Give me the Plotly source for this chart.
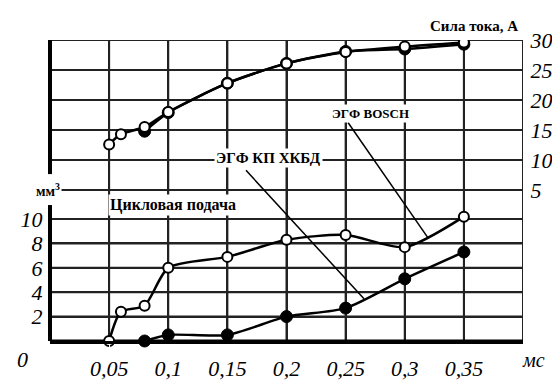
import plotly.graph_objects as go

# ---- data ----
x_ticks = [0.05, 0.1, 0.15, 0.2, 0.25, 0.3, 0.35]
x_tick_labels = ["0,05", "0,1", "0,15", "0,2", "0,25", "0,3", "0,35"]
feed_ticks = [2, 4, 6, 8, 10]
current_ticks = [5, 10, 15, 20, 25, 30]

# Current (A), upper curves
cur_bosch_x = [0.05, 0.06, 0.08, 0.1, 0.15, 0.2, 0.25, 0.3, 0.35]
cur_bosch_y = [12.6, 14.3, 15.5, 18.0, 22.8, 26.1, 28.0, 28.9, 29.6]
cur_kp_x = [0.08, 0.1, 0.15, 0.2, 0.25, 0.3, 0.35]
cur_kp_y = [14.8, 17.9, 22.8, 26.1, 28.1, 28.5, 29.3]

# Cycle feed (mm3), lower curves
feed_bosch_x = [0.05, 0.06, 0.08, 0.1, 0.15, 0.2, 0.25, 0.3, 0.35]
feed_bosch_y = [0.0, 2.4, 2.9, 6.0, 6.9, 8.3, 8.7, 7.7, 10.2]
feed_kp_x = [0.08, 0.1, 0.15, 0.2, 0.25, 0.3, 0.35]
feed_kp_y = [0.0, 0.5, 0.5, 2.0, 2.7, 5.1, 7.3]

# axis ranges
x_range = [0, 0.4]
feed_range = [0, 24.69]
current_range = [-20.16, 30]

# ---- layout geometry ----
W, H = 560, 385
L, R, T, B = 42, 45, 32, 32
pw, ph = W - L - R, H - T - B

def px(xp):
    return (xp - L) / pw

def py(yp):
    return (H - B - yp) / ph

serif = "Liberation Serif"
tickfont = dict(family=serif, size=22, color="black", style="italic")
grid = "#222222"

fig = go.Figure()

# grid lines as background traces (from the tick arrays)
vx, vy = [], []
for xv in x_ticks:
    vx += [xv, xv, None]
    vy += [feed_range[0], feed_range[1], None]
hx, hy = [], []
for yv in feed_ticks:
    hx += [x_range[0], x_range[1], None]
    hy += [yv, yv, None]
fig.add_trace(go.Scatter(x=vx + hx, y=vy + hy, yaxis="y", mode="lines",
                         line=dict(color=grid, width=2), hoverinfo="skip", showlegend=False))
cx, cy = [], []
for yv in current_ticks:
    cx += [x_range[0], x_range[1], None]
    cy += [yv, yv, None]
fig.add_trace(go.Scatter(x=cx, y=cy, yaxis="y2", mode="lines",
                         line=dict(color=grid, width=2), hoverinfo="skip", showlegend=False,
                         cliponaxis=False))
# right border and bottom axis line
fig.add_trace(go.Scatter(x=[x_range[1], x_range[1]], y=feed_range, yaxis="y", mode="lines",
                         line=dict(color=grid, width=2), hoverinfo="skip", showlegend=False,
                         cliponaxis=False))
fig.add_trace(go.Scatter(x=x_range, y=[0, 0], yaxis="y", mode="lines",
                         line=dict(color="black", width=3), hoverinfo="skip", showlegend=False,
                         cliponaxis=False))

line_style = dict(color="black", width=2.5, shape="spline", smoothing=0.7)
open_marker = dict(symbol="circle", size=10, color="white", line=dict(color="black", width=2))
filled_marker = dict(symbol="circle", size=12, color="black", line=dict(color="black", width=1))

fig.add_trace(go.Scatter(x=cur_kp_x, y=cur_kp_y, yaxis="y2", mode="lines+markers",
                         line=line_style, marker=filled_marker, showlegend=False))
fig.add_trace(go.Scatter(x=cur_bosch_x, y=cur_bosch_y, yaxis="y2", mode="lines+markers",
                         line=line_style, marker=open_marker, showlegend=False))
fig.add_trace(go.Scatter(x=feed_kp_x, y=feed_kp_y, yaxis="y", mode="lines+markers",
                         line=line_style, marker=filled_marker, showlegend=False,
                         cliponaxis=False))
fig.add_trace(go.Scatter(x=feed_bosch_x, y=feed_bosch_y, yaxis="y", mode="lines+markers",
                         line=line_style, marker=open_marker, showlegend=False,
                         cliponaxis=False))

fig.update_layout(
    width=W, height=H,
    margin=dict(l=L, r=R, t=T, b=B),
    paper_bgcolor="white", plot_bgcolor="white",
    font=dict(family=serif, color="black"),
    xaxis=dict(range=x_range, tickvals=x_ticks, ticktext=x_tick_labels,
               showgrid=True, gridcolor=grid, gridwidth=2,
               zeroline=False, showline=True, linecolor="black", linewidth=3,
               ticks="outside", ticklen=6, tickcolor="white", tickfont=tickfont),
    yaxis=dict(range=feed_range, tickvals=feed_ticks,
               showgrid=True, gridcolor=grid, gridwidth=2,
               zeroline=False, showline=False,
               ticks="outside", ticklen=2, tickcolor="white", tickfont=tickfont),
    yaxis2=dict(range=current_range, tickvals=current_ticks, overlaying="y", side="right",
                showgrid=True, gridcolor=grid, gridwidth=2,
                zeroline=False, showline=False,
                ticks="outside", ticklen=2, tickcolor="white", tickfont=tickfont),
)

# thick left border (two parts)
fig.add_shape(type="line", xref="paper", yref="paper", x0=0, x1=0, y0=py(175), y1=1,
              line=dict(color="black", width=4))
fig.add_shape(type="line", xref="paper", yref="paper", x0=0, x1=0, y0=0, y1=py(208),
              line=dict(color="black", width=4))

# leader lines
fig.add_shape(type="line", xref="paper", yref="paper", x0=px(340), y0=py(120), x1=px(420), y1=py(243),
              line=dict(color="black", width=1.5))
fig.add_shape(type="line", xref="paper", yref="paper", x0=px(238), y0=py(171), x1=px(356), y1=py(308),
              line=dict(color="black", width=1.5))

def note(text, xp, yp, size=14, bg="white"):
    fig.add_annotation(text=text, xref="paper", yref="paper", x=px(xp), y=py(yp),
                       showarrow=False, font=dict(family=serif, size=size, color="black"),
                       bgcolor=bg, xanchor="center", yanchor="middle", borderpad=1)

note("<b>Сила тока, А</b>", 466, 17, size=15, bg="rgba(0,0,0,0)")
note("<b>ЭГФ BOSCH</b>", 362, 110, size=13)
note("<b>ЭГФ КП ХКБД</b>", 260, 158, size=15)
note("<b>Цикловая подача</b>", 165, 208, size=16)
note("<b>мм<sup>3</sup></b>", 40, 192, size=14)

fig.add_annotation(text="0", xref="paper", yref="paper", x=px(14), y=py(373),
                   showarrow=False, font=tickfont, xanchor="center", yanchor="middle")
fig.add_annotation(text="мс", xref="paper", yref="paper", x=px(525), y=py(373),
                   showarrow=False, font=dict(family=serif, size=20, color="black", style="italic"),
                   xanchor="center", yanchor="middle")

fig.write_html("out.html")
